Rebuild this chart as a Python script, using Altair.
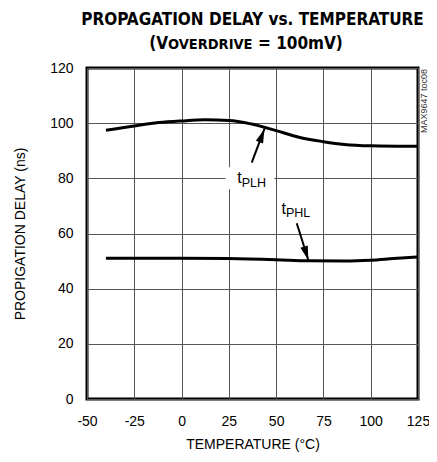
import altair as alt
import pandas as pd
import numpy as np

# ---- data ----
plh_temp = [-40, -25, -12, 0, 12.5, 25, 37, 50, 62, 75, 86, 100, 125]
plh_delay = [97.4, 99.0, 100.2, 100.8, 101.2, 101.0, 99.7, 97.3, 94.9, 93.3, 92.3, 91.8, 91.6]
phl_temp = [-40, 0, 25, 50, 67, 86, 100, 112, 125]
phl_delay = [51.0, 51.0, 50.9, 50.5, 50.1, 50.0, 50.3, 50.9, 51.5]

# annotation arrows (tail -> tip) in data units
arrow_name = ["PLH", "PHL"]
arrow_x0 = [37.1, 60.9]
arrow_y0 = [85.7, 63.7]
arrow_x1 = [43.8, 67.0]
arrow_y1 = [97.9, 50.4]

# labels: split point between "t" and subscript
lab_x = [31.8, 55.2]
lab_y = [78.3, 67.2]
lab_sub_y = [77.0, 65.9]
lab_sub = ["PLH", "PHL"]

x_ticks = [-50, -25, 0, 25, 50, 75, 100, 125]
y_ticks = [0, 20, 40, 60, 80, 100, 120]

title1 = "PROPAGATION DELAY vs. TEMPERATURE"
title2 = ["(V", "OVERDRIVE", " = 100mV)"]

W, H = 331, 331
FONT = "Liberation Sans, Arial, sans-serif"
TFONT = "DejaVu Sans Condensed, DejaVu Sans, sans-serif"

curves = pd.DataFrame({
    "temp": plh_temp + phl_temp,
    "delay": plh_delay + phl_delay,
    "series": ["tPLH"] * len(plh_temp) + ["tPHL"] * len(phl_temp),
})

arr = pd.DataFrame({"name": arrow_name, "x0": arrow_x0, "y0": arrow_y0,
                    "x1": arrow_x1, "y1": arrow_y1})
pxx = W / 175.0
pxy = H / 120.0
dx = (arr["x1"] - arr["x0"]) * pxx
dy = -(arr["y1"] - arr["y0"]) * pxy
arr["ang"] = (np.degrees(np.arctan2(dx, -dy)) + 360) % 360

labs = pd.DataFrame({"x": lab_x, "y": lab_y, "ys": lab_sub_y, "sub": lab_sub, "t": ["t", "t"]})
bg = pd.DataFrame({"x": [23.2], "x2": [49.0], "y": [76.0], "y2": [84.0]})

xs = alt.Scale(domain=[-50, 125], nice=False)
ys = alt.Scale(domain=[0, 120], nice=False)

xaxis = alt.Axis(values=x_ticks, title="TEMPERATURE (°C)", grid=True, ticks=False, tickSize=0,
                 domain=False, labelPadding=15, titlePadding=9, labelFlush=False,
                 labelExpr="'' + datum.value")
yaxis = alt.Axis(values=y_ticks, title="PROPIGATION DELAY (ns)", grid=True, ticks=False, tickSize=0,
                 domain=False, labelPadding=14, labelFlush=False, titleX=-67, titleY=H / 2,
                 titleBaseline="middle")

lines = alt.Chart(curves).mark_line(color="black", strokeWidth=3, interpolate="monotone").encode(
    x=alt.X("temp:Q", scale=xs, axis=xaxis),
    y=alt.Y("delay:Q", scale=ys, axis=yaxis),
    detail="series:N",
)

bgrect = alt.Chart(bg).mark_rect(color="white").encode(
    x=alt.X("x:Q", scale=xs), x2="x2:Q", y=alt.Y("y:Q", scale=ys), y2="y2:Q")

shafts = alt.Chart(arr).mark_rule(color="black", strokeWidth=2).encode(
    x=alt.X("x0:Q", scale=xs), y=alt.Y("y0:Q", scale=ys), x2="x1:Q", y2="y1:Q")

heads = alt.Chart(arr).mark_point(shape="M0,0L-0.55,2L0.55,2Z", filled=True, color="black",
                                  opacity=1, size=196, strokeWidth=0).encode(
    x=alt.X("x1:Q", scale=xs), y=alt.Y("y1:Q", scale=ys), angle=alt.Angle("ang:Q", scale=None))

t_txt = alt.Chart(labs).mark_text(font=FONT, fontSize=16, align="right", baseline="alphabetic",
                                  color="black").encode(
    x=alt.X("x:Q", scale=xs), y=alt.Y("y:Q", scale=ys), text="t:N")
sub_txt = alt.Chart(labs).mark_text(font=FONT, fontSize=12.5, align="left", baseline="alphabetic",
                                    color="black").encode(
    x=alt.X("x:Q", scale=xs), y=alt.Y("ys:Q", scale=ys), text="sub:N")

tag = alt.Chart(pd.DataFrame({"s": ["MAX9647 toc08"]})).mark_text(
    font=FONT, fontSize=9, angle=270, align="right", baseline="middle", color="#333").encode(
    x=alt.value(W + 6), y=alt.value(1), text="s:N")

# title (two lines, second with small-caps subscript)
t1 = alt.Chart(pd.DataFrame({"s": [title1]})).mark_text(
    font=TFONT, fontSize=17, fontWeight="bold", align="center", baseline="alphabetic",
    color="black").encode(x=alt.value(W / 2), y=alt.value(-43), text="s:N")
t2a = alt.Chart(pd.DataFrame({"s": [title2[0]]})).mark_text(
    font=TFONT, fontSize=17, fontWeight="bold", align="right", baseline="alphabetic",
    color="black").encode(x=alt.value(81), y=alt.value(-19), text="s:N")
t2b = alt.Chart(pd.DataFrame({"s": [title2[1]]})).mark_text(
    font=TFONT, fontSize=14.5, fontWeight="bold", align="left", baseline="alphabetic",
    color="black").encode(x=alt.value(81), y=alt.value(-19), text="s:N")
t2c = alt.Chart(pd.DataFrame({"s": [title2[2]]})).mark_text(
    font=TFONT, fontSize=17, fontWeight="bold", align="left", baseline="alphabetic",
    color="black").encode(x=alt.value(171), y=alt.value(-19), text="s:N")

chart = alt.layer(lines, bgrect, shafts, heads, t_txt, sub_txt, tag, t1, t2a, t2b, t2c).properties(
    width=W, height=H,
    autosize=alt.AutoSizeParams(type="none"),
    padding={"left": 79, "top": 60, "right": 11, "bottom": 55},
).configure_view(stroke="black", strokeWidth=3).configure_axis(
    gridColor="#555", gridWidth=1, gridOpacity=1, labelFont=FONT, labelFontSize=14,
    labelColor="black", titleFont=FONT, titleFontSize=14, titleFontWeight="normal", titleColor="black",
)

chart.save("out.html", embed_options={"renderer": "svg", "actions": False})
